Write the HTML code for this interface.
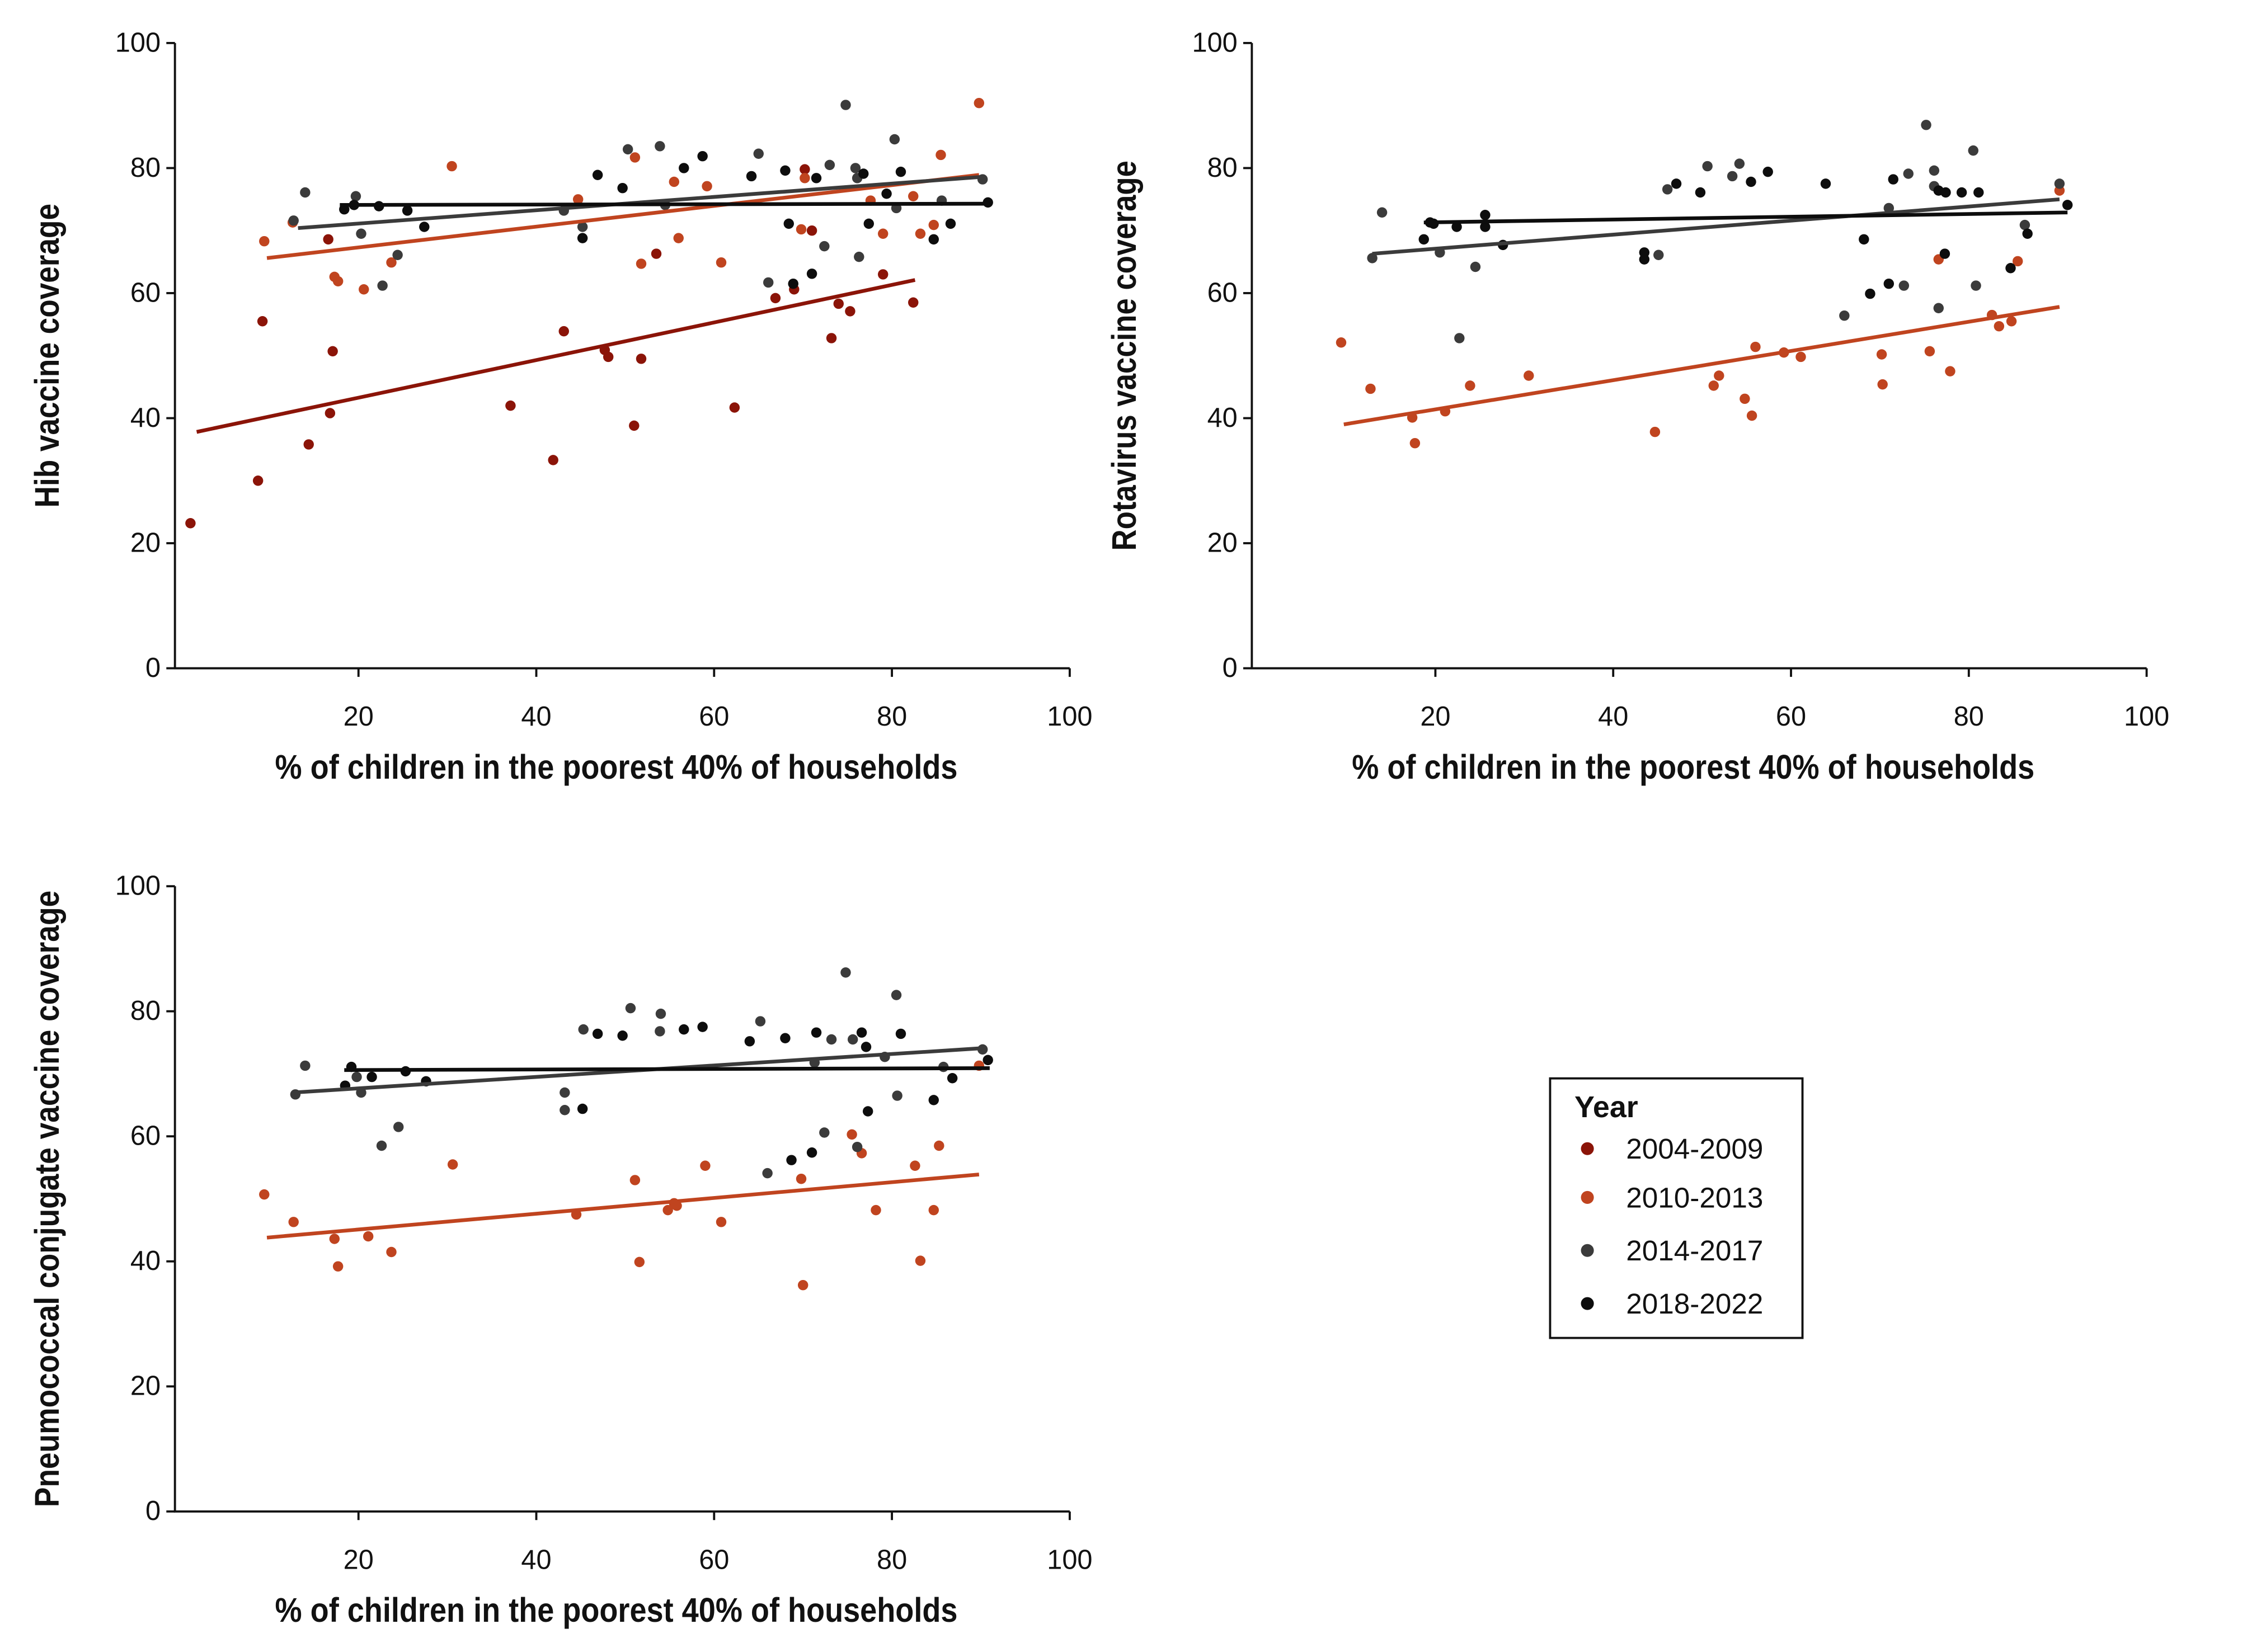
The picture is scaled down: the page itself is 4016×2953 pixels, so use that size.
<!DOCTYPE html>
<html><head><meta charset="utf-8"><style>
html,body{margin:0;padding:0;background:#fff;}
svg{display:block;}
text{font-family:"Liberation Sans Narrow","Liberation Sans",sans-serif;fill:#111;}
</style></head><body>
<svg id="chart" width="4016" height="2953" viewBox="0 0 1567 1152" preserveAspectRatio="none" xmlns="http://www.w3.org/2000/svg">
<g id="legend">
<rect x="1081" y="752" width="176" height="181" fill="#fff" stroke="#111" stroke-width="1.5"/>
<text x="1098" y="779" font-size="21" font-weight="bold">Year</text>
</g>
</svg>
<script>
// ---- data ----
const seriesNames = ["2004-2009","2010-2013","2014-2017","2018-2022"];
const seriesColors = ["#8b1408","#c0441f","#3b3b3b","#0d0d0d"];
const xTicks = [20,40,60,80,100];
const yTicks = [0,20,40,60,80,100];

// Hib panel
const hib04x = [1.1,8.7,9.2,14.4,16.8,16.6,17.1,37.1,41.9,43.1,47.7,48.1,51,51.8,53.5,62.3,66.9,69,70.2,71,73.2,74,75.3,79,82.4];
const hib04y = [23.2,30,55.5,35.8,40.8,68.6,50.7,42,33.3,53.9,50.9,49.8,38.8,49.5,66.3,41.7,59.2,60.6,79.8,70,52.8,58.3,57.1,63,58.5];
const hib10x = [9.4,12.6,17.3,17.7,20.6,23.7,30.5,44.7,51.1,51.8,55.5,56,59.2,60.8,69.8,70.2,77.6,79,82.4,83.2,84.7,85.5,89.8];
const hib10y = [68.3,71.3,62.6,61.9,60.6,64.9,80.3,75,81.7,64.7,77.8,68.8,77.1,64.9,70.2,78.4,74.8,69.5,75.5,69.5,70.9,82.1,90.4];
const hib14x = [12.7,14,19.7,20.3,22.7,24.4,43.1,45.2,50.3,53.9,54.5,65,66.1,73,72.4,74.8,75.9,76.1,76.3,80.3,80.5,85.6,90.2];
const hib14y = [71.6,76.1,75.5,69.5,61.2,66.1,73.2,70.6,83,83.5,74.1,82.3,61.7,80.5,67.5,90.1,80,78.4,65.8,84.6,73.6,74.8,78.2];
const hib18x = [18.4,19.5,22.3,25.5,27.4,45.2,46.9,49.7,58.7,56.6,64.2,68,68.4,68.9,71,71.5,76.8,77.4,79.4,81,84.7,86.6,90.8];
const hib18y = [73.4,74.1,73.9,73.2,70.6,68.8,78.9,76.8,81.9,80,78.7,79.6,71.1,61.5,63.1,78.4,79.1,71.1,75.9,79.4,68.6,71.1,74.5];
const hibTrendX0 = [1.8,9.7,13.2,17.9];
const hibTrendY0 = [37.8,65.6,70.4,74.1];
const hibTrendX1 = [82.6,89.8,90.2,91];
const hibTrendY1 = [62.1,78.9,78.6,74.3];

// Rotavirus panel
const rot10x = [9.4,12.7,17.4,17.7,21.1,23.9,30.5,44.7,51.3,51.9,54.8,55.6,56,59.2,61.1,70.2,70.3,75.6,76.6,77.9,82.6,83.4,84.8,85.5,90.2];
const rot10y = [52.1,44.7,40.1,36,41.1,45.2,46.8,37.8,45.2,46.8,43.1,40.4,51.4,50.5,49.8,50.2,45.4,50.7,65.4,47.5,56.5,54.7,55.5,65.1,76.4];
const rot14x = [12.9,14,20.5,22.7,24.5,45.1,46.1,50.6,54.2,53.4,66,71,73.2,75.2,76.1,76.6,80.5,80.8,86.3,90.2,72.7,76.1];
const rot14y = [65.6,72.9,66.5,52.8,64.2,66.1,76.6,80.3,80.7,78.7,56.4,73.6,79.1,86.9,79.6,57.6,82.8,61.2,70.9,77.5,61.2,77.1];
const rot18x = [18.7,19.4,19.8,22.4,25.6,25.6,27.6,43.5,43.5,47.1,49.8,55.5,57.4,63.9,68.2,68.9,71,71.5,76.6,77.4,77.3,79.2,81.1,84.7,86.6,91.1];
const rot18y = [68.6,71.3,71.1,70.6,72.5,70.6,67.7,66.5,65.4,77.5,76.1,77.8,79.4,77.5,68.6,59.9,61.5,78.2,76.4,76.1,66.3,76.1,76.1,64,69.5,74.1];
const rotTrendX0 = [9.7,12.9,18.7];
const rotTrendY0 = [39,66.3,71.3];
const rotTrendX1 = [90.2,90.2,91.1];
const rotTrendY1 = [57.8,75,72.9];

// PCV panel
const pcv10x = [9.4,12.7,17.3,17.7,21.1,23.7,30.6,44.5,51.1,51.6,54.8,55.5,55.8,59,60.8,69.8,70,75.5,76.6,78.2,82.6,83.2,84.7,85.3,89.8];
const pcv10y = [50.7,46.3,43.6,39.2,44,41.5,55.5,47.5,53,39.9,48.2,49.3,48.9,55.3,46.3,53.2,36.2,60.3,57.3,48.2,55.3,40.1,48.2,58.5,71.3];
const pcv14x = [12.9,14,19.8,20.3,22.6,24.5,43.2,43.2,45.3,50.6,53.9,54,65.2,66,72.4,71.3,73.2,74.8,75.6,76.1,80.5,80.6,79.2,85.8,90.2];
const pcv14y = [66.7,71.3,69.5,67,58.5,61.5,67,64.2,77.1,80.5,76.8,79.6,78.4,54.1,60.6,71.8,75.5,86.2,75.5,58.3,82.6,66.5,72.7,71.1,73.9];
const pcv18x = [18.5,19.2,21.5,25.3,27.6,45.2,46.9,49.7,56.6,58.7,64,68,68.7,71,71.5,76.6,77.1,77.3,81,84.7,86.8,90.8];
const pcv18y = [68.1,71.1,69.5,70.4,68.8,64.4,76.4,76.1,77.1,77.5,75.2,75.7,56.2,57.4,76.6,76.6,74.3,64,76.4,65.8,69.3,72.2];
const pcvTrendX0 = [9.7,12.7,18.4];
const pcvTrendY0 = [43.8,67,70.6];
const pcvTrendX1 = [89.8,90.2,91];
const pcvTrendY1 = [53.9,74.1,70.9];

// ---- drawing ----
const NS = "http://www.w3.org/2000/svg";
const svg = document.getElementById("chart");
function mk(tag, attrs, parent){
  const e = document.createElementNS(NS, tag);
  for (const k in attrs) e.setAttribute(k, attrs[k]);
  (parent||svg).appendChild(e);
  return e;
}
function panel(cfg){
  const g = mk("g", {});
  
  
  const sx = v => cfg.x0 + v * 6.2;
  const sy = v => cfg.y0 - v * 4.36;
  const ax = mk("path", {d:`M${cfg.x0-4},${sy(100)} V${cfg.y0} H${sx(100)}`, stroke:"#111", "stroke-width":1.5, fill:"none"}, g);
  
  
  yTicks.forEach(t => {
    mk("line", {x1:cfg.x0-10, x2:cfg.x0-4, y1:sy(t), y2:sy(t), stroke:"#111","stroke-width":1.5}, g);
    const tx = mk("text", {x:cfg.x0-14, y:sy(t)+6, "font-size":19, "text-anchor":"end"}, g);
    tx.textContent = t;
    
    
  });
  xTicks.forEach(t => {
    mk("line", {x1:sx(t), x2:sx(t), y1:cfg.y0, y2:cfg.y0+6, stroke:"#111","stroke-width":1.5}, g);
    const tx = mk("text", {x:sx(t), y:cfg.y0+40, "font-size":19, "text-anchor":"middle"}, g);
    tx.textContent = t;
    
    
  });
  const xt = mk("text", {x:sx(49), y:cfg.y0+77, "font-size":24, "font-weight":"bold", "text-anchor":"middle", textLength:476, lengthAdjust:"spacingAndGlyphs"}, g);
  xt.textContent = "% of children in the poorest 40% of households";
  
  
  const cy = sy(50);
  const yt = mk("text", {x:0, y:0, "font-size":24, "font-weight":"bold", "text-anchor":"middle", textLength:cfg.ylen, lengthAdjust:"spacingAndGlyphs", transform:`translate(${cfg.x0-85},${cy}) rotate(-90)`}, g);
  yt.textContent = cfg.ytitle;
  
  
  cfg.series.forEach((s, i) => {
    const col = seriesColors[s.c];
    s.xs.forEach((xv, j) => {
      const c = mk("circle", {cx:sx(xv), cy:sy(s.ys[j]), r:3.6, fill:col}, g);
      
      
    });
  });
  cfg.series.forEach((s, i) => {
    const l = mk("line", {x1:sx(cfg.tx0[i]), y1:sy(cfg.ty0[i]), x2:sx(cfg.tx1[i]), y2:sy(cfg.ty1[i]), stroke:seriesColors[s.c], "stroke-width":2.6}, g);
    
    
  });
}
panel({name:"hib-panel", x0:126, y0:466, ytitle:"Hib vaccine coverage", ylen:212,
  series:[{c:0,xs:hib04x,ys:hib04y},{c:1,xs:hib10x,ys:hib10y},{c:2,xs:hib14x,ys:hib14y},{c:3,xs:hib18x,ys:hib18y}],
  tx0:hibTrendX0, ty0:hibTrendY0, tx1:hibTrendX1, ty1:hibTrendY1});
panel({name:"rotavirus-panel", x0:877, y0:466, ytitle:"Rotavirus vaccine coverage", ylen:272,
  series:[{c:1,xs:rot10x,ys:rot10y},{c:2,xs:rot14x,ys:rot14y},{c:3,xs:rot18x,ys:rot18y}],
  tx0:rotTrendX0, ty0:rotTrendY0, tx1:rotTrendX1, ty1:rotTrendY1});
panel({name:"pneumococcal-panel", x0:126, y0:1054, ytitle:"Pneumococcal conjugate vaccine coverage", ylen:430,
  series:[{c:1,xs:pcv10x,ys:pcv10y},{c:2,xs:pcv14x,ys:pcv14y},{c:3,xs:pcv18x,ys:pcv18y}],
  tx0:pcvTrendX0, ty0:pcvTrendY0, tx1:pcvTrendX1, ty1:pcvTrendY1});

const lg = document.getElementById("legend");
const legendY = [801, 835, 872, 909];
seriesNames.forEach((n, i) => {
  const c = mk("circle", {cx:1107, cy:legendY[i], r:4.5, fill:seriesColors[i]}, lg);
  
  
  const t = mk("text", {x:1134, y:legendY[i]+7, "font-size":20}, lg);
  t.textContent = n;
  
  
});
</script>
</body></html>
